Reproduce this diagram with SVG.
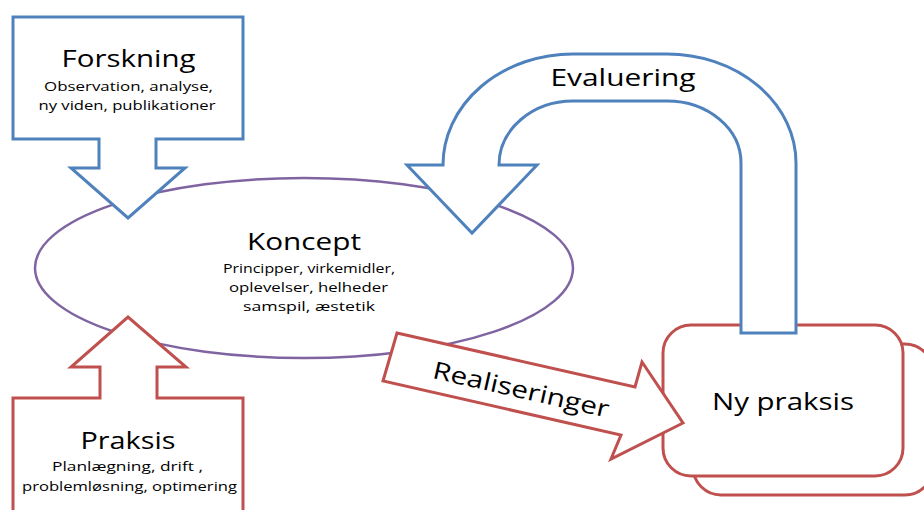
<svg xmlns="http://www.w3.org/2000/svg" width="924" height="510" viewBox="0 0 924 510">
  <style>
    .bg { fill: #ffffff; }
    .blue { fill: #ffffff; stroke: #4F81BD; stroke-width: 3; stroke-linejoin: miter; }
    .red { fill: #ffffff; stroke: #C0504D; stroke-width: 3; stroke-linejoin: miter; }
    .purple { fill: #ffffff; stroke: #8064A2; stroke-width: 2.5; }
    text { font-family: "Open Sans", "Liberation Sans", sans-serif; fill: #000000; text-anchor: middle; }
    .big { font-size: 24px; }
    .small { font-size: 13.5px; }
  </style>

  <rect class="bg" x="0" y="0" width="924" height="510"/>

  <!-- Central concept ellipse -->
  <g id="koncept">
    <ellipse class="purple" cx="304" cy="268" rx="269" ry="90"/>
    <text class="big" x="304" y="250" textLength="114" lengthAdjust="spacingAndGlyphs">Koncept</text>
    <text class="small" x="309" y="273" textLength="172" lengthAdjust="spacingAndGlyphs">Principper, virkemidler,</text>
    <text class="small" x="308.5" y="292" textLength="159" lengthAdjust="spacingAndGlyphs">oplevelser, helheder</text>
    <text class="small" x="309" y="311" textLength="132" lengthAdjust="spacingAndGlyphs">samspil, æstetik</text>
  </g>

  <!-- New practice: stacked rounded boxes -->
  <g id="ny-praksis">
    <rect class="red" x="693" y="344" width="240" height="151" rx="28" ry="28"/>
    <rect class="red" x="663" y="325" width="240" height="151" rx="28" ry="28"/>
    <text class="big" x="783" y="410" textLength="142" lengthAdjust="spacingAndGlyphs">Ny praksis</text>
  </g>

  <!-- Research callout pointing down -->
  <g id="forskning">
    <path class="blue" d="M13,17 H243 V139 H156 V168 H185 L128,218 L71,168 H99 V139 H13 Z"/>
    <text class="big" x="128.5" y="67" textLength="134" lengthAdjust="spacingAndGlyphs">Forskning</text>
    <text class="small" x="128.5" y="91" textLength="169" lengthAdjust="spacingAndGlyphs">Observation, analyse,</text>
    <text class="small" x="127" y="110" textLength="177" lengthAdjust="spacingAndGlyphs">ny viden, publikationer</text>
  </g>

  <!-- Practice callout pointing up -->
  <g id="praksis">
    <path class="red" d="M13,516 V398 H100 V367 H71 L128,317 L186,367 H157 V398 H243 V516 Z"/>
    <text class="big" x="128" y="449" textLength="95" lengthAdjust="spacingAndGlyphs">Praksis</text>
    <text class="small" x="127.5" y="471" textLength="151" lengthAdjust="spacingAndGlyphs">Planlægning, drift ,</text>
    <text class="small" x="129.5" y="491" textLength="215" lengthAdjust="spacingAndGlyphs">problemløsning, optimering</text>
  </g>

  <!-- Block arrows between the nodes -->
  <g id="connectors">
    <g id="evaluering">
      <path class="blue" d="M741,333 V163 A74,62 0 0 0 667,101 H573 A74,64 0 0 0 499,165 H537 L472,233 L407,165 H443 A130,111 0 0 1 573,54 H667 A129,109 0 0 1 796,163 V333 Z"/>
      <text class="big" x="623" y="86" textLength="145" lengthAdjust="spacingAndGlyphs">Evaluering</text>
    </g>
    <g id="realiseringer">
      <path class="red" d="M397,333 L635,387 L642,362 L683,423 L611,459 L621,435 L383,381 Z"/>
      <text class="big" transform="translate(521,390) rotate(12.8)" x="0" y="8" textLength="180" lengthAdjust="spacingAndGlyphs">Realiseringer</text>
    </g>
  </g>
</svg>
